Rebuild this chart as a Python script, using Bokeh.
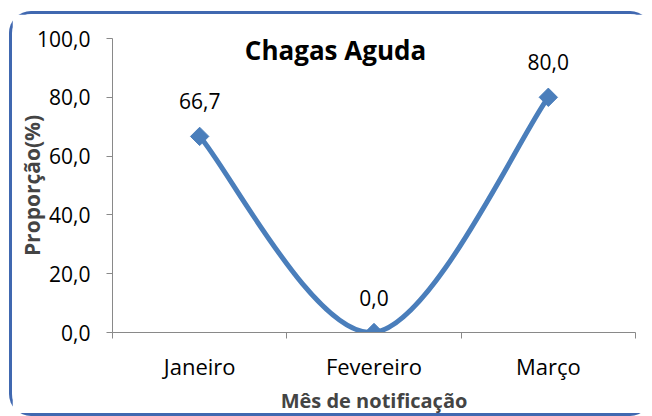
import math
from bokeh.plotting import figure
from bokeh.models import Range1d, FixedTicker, Label, ColumnDataSource
from bokeh.embed import file_html
from bokeh.resources import INLINE

# ---- data ----
categories = ["Janeiro", "Fevereiro", "Março"]
values = [66.7, 0.0, 80.0]
value_labels = ["66,7", "0,0", "80,0"]
y_ticks = [0, 20, 40, 60, 80, 100]
y_tick_labels = ["0,0", "20,0", "40,0", "60,0", "80,0", "100,0"]
title_text = "Chagas Aguda"
x_title = "Mês de notificação"
y_title = "Proporção(%)"

FONT = "Open Sans"
LINE = "#4A7EBB"
BORDER = "#4068B0"
AXIS = "#898989"

xs = [i + 0.5 for i in range(len(categories))]

p = figure(width=643, height=405, output_backend="svg", toolbar_location=None,
           x_range=Range1d(0, len(categories)), y_range=Range1d(0, 100),
           min_border_left=100, min_border_right=20, min_border_top=24,
           min_border_bottom=87)
side = f"3.5px solid {BORDER}"
p.styles = {"border-top": side, "border-left": side, "border-bottom": side,
            "border-right-width": "0px",
            "border-radius": "22px", "margin-left": "9px", "margin-top": "11px"}
p.outline_line_color = None
p.background_fill_color = "white"
p.border_fill_color = "white"
p.grid.visible = False

# y axis
p.yaxis.ticker = FixedTicker(ticks=y_ticks, minor_ticks=[])
p.yaxis.major_label_overrides = {t: l for t, l in zip(y_ticks, y_tick_labels)}
p.yaxis.axis_line_color = AXIS
p.yaxis.major_tick_line_color = AXIS
p.yaxis.major_tick_out = 6
p.yaxis.major_tick_in = 0
p.yaxis.major_label_standoff = 16
p.yaxis.major_label_text_font = FONT
p.yaxis.major_label_text_font_size = "21px"
p.yaxis.major_label_text_color = "black"
p.yaxis.axis_label = y_title
p.yaxis.axis_label_text_font = FONT
p.yaxis.axis_label_text_font_style = "bold"
p.yaxis.axis_label_text_font_size = "21px"
p.yaxis.axis_label_standoff = -12

# x axis: labels at category centres, ticks at boundaries
p.xaxis.ticker = FixedTicker(ticks=xs, minor_ticks=list(range(len(categories) + 1)))
p.xaxis.major_label_overrides = {x: c for x, c in zip(xs, categories)}
p.xaxis.axis_line_color = AXIS
p.xaxis.major_tick_line_color = None
p.xaxis.major_tick_out = 6
p.xaxis.minor_tick_line_color = AXIS
p.xaxis.minor_tick_out = 6
p.xaxis.minor_tick_in = 0
p.xaxis.major_label_standoff = 12
p.xaxis.major_label_text_font = FONT
p.xaxis.major_label_text_font_size = "22px"
p.xaxis.major_label_text_color = "black"
p.xaxis.axis_label = x_title
p.xaxis.axis_label_text_font = FONT
p.xaxis.axis_label_text_font_style = "bold"
p.xaxis.axis_label_text_font_size = "20px"
p.xaxis.axis_label_standoff = 3

# smoothed line (Catmull-Rom -> cubic Bezier) computed from data
n = len(xs)
x0, y0, x1, y1, cx0, cy0, cx1, cy1 = [], [], [], [], [], [], [], []
for i in range(n - 1):
    pa = (xs[max(i - 1, 0)], values[max(i - 1, 0)])
    pb = (xs[i], values[i])
    pc = (xs[i + 1], values[i + 1])
    pd = (xs[min(i + 2, n - 1)], values[min(i + 2, n - 1)])
    x0.append(pb[0]); y0.append(pb[1]); x1.append(pc[0]); y1.append(pc[1])
    cx0.append(pb[0] + (pc[0] - pa[0]) / 6); cy0.append(pb[1] + (pc[1] - pa[1]) / 6)
    cx1.append(pc[0] - (pd[0] - pb[0]) / 6); cy1.append(pc[1] - (pd[1] - pb[1]) / 6)
p.bezier(x0=x0, y0=y0, x1=x1, y1=y1, cx0=cx0, cy0=cy0, cx1=cx1, cy1=cy1,
         line_color=LINE, line_width=5, line_cap="round")

src = ColumnDataSource(dict(x=xs, y=values, lab=value_labels))
p.scatter("x", "y", source=src, marker="square", size=13, angle=math.pi / 4,
          fill_color=LINE, line_color=LINE)
p.text("x", "y", text="lab", source=src, text_align="center",
       text_baseline="bottom", y_offset=-27, text_font_size="21px",
       text_font={"value": FONT}, text_color="black")

# title inside the chart area (screen units relative to the plot frame)
p.add_layout(Label(x=223, y=301, x_units="screen", y_units="screen",
                   text=title_text, text_align="center", text_baseline="top",
                   text_font=FONT, text_font_style="bold",
                   text_font_size="26px", text_color="black"))

open("out.html", "w").write(file_html(p, INLINE))
